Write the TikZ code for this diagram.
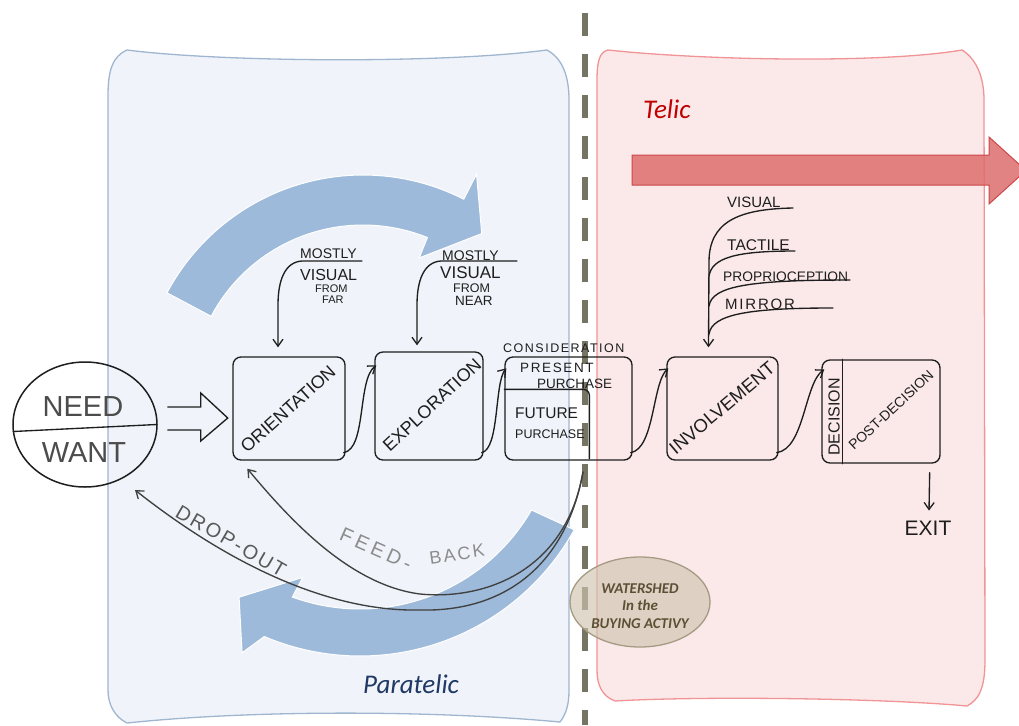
\documentclass[tikz,border=0pt]{standalone}
\usepackage{fontspec}
\usetikzlibrary{shapes.geometric,arrows.meta}
\newfontfamily\hand{Liberation Sans}
\newfontfamily\handwide{Liberation Sans}[LetterSpace=12]
\newfontfamily\handwider{Liberation Sans}[LetterSpace=20]
\newfontfamily\calib{Carlito}
\newcommand\setfs[1]{\fontsize{#1}{#1}\selectfont}

\definecolor{paneblue}{RGB}{240,244,250}
\definecolor{paneblueline}{RGB}{160,182,208}
\definecolor{panered}{RGB}{251,233,234}
\definecolor{paneredline}{RGB}{240,148,150}
\definecolor{arrowblue}{RGB}{157,186,218}
\definecolor{arrowred}{RGB}{222,110,110}
\definecolor{arrowredline}{RGB}{205,70,72}
\definecolor{divider}{RGB}{118,116,98}
\definecolor{telicred}{RGB}{192,0,0}
\definecolor{parablue}{RGB}{31,56,100}
\definecolor{shedfill}{RGB}{208,196,176}
\definecolor{shedline}{RGB}{165,155,130}
\definecolor{shedtext}{RGB}{92,80,52}
\definecolor{ink}{RGB}{30,30,30}

\begin{document}
\begin{tikzpicture}[x=1pt,y=-1pt,
  sk/.style={draw=ink, line width=1.35pt, line cap=round, line join=round},
  skarrow/.style={sk, -{Straight Barb[length=7pt,width=10pt,line width=1.3pt]}},
  stage/.style={sk, rounded corners=8pt, minimum width=#1, minimum height=103pt, inner sep=0pt},
  lab/.style={inner sep=0pt, text=ink},
  bluearrow/.style={fill=arrowblue, draw=white, line width=1pt},
  panelblue/.style={fill=paneblue, draw=paneblueline, line width=1.3pt},
  panelred/.style={fill=panered, draw=paneredline, line width=1.3pt}
]
\useasboundingbox (0,0) rectangle (1019,725);
\fill[white] (0,0) rectangle (1019,725);

% --- the two phase panels ---
\filldraw[panelblue]
  (127,50) .. controls (220,62) and (440,64) .. (547,50)
  .. controls (560,57) and (569,72) .. (569,100)
  -- (569,690) .. controls (569,705) and (566,714) .. (560,722)
  .. controls (430,710) and (250,710) .. (127,723)
  .. controls (115,717) and (108,705) .. (108,690)
  -- (108,95) .. controls (108,70) and (113,56) .. (127,50) -- cycle;
\filldraw[panelred]
  (608,50) .. controls (700,60) and (880,64) .. (962,50)
  .. controls (975,58) and (984,75) .. (984,100)
  -- (985,660) .. controls (985,690) and (978,700) .. (967,706)
  .. controls (880,698) and (700,696) .. (615,701)
  .. controls (602,696) and (597,685) .. (597,670)
  -- (597,80) .. controls (597,60) and (600,52) .. (608,50) -- cycle;

% --- watershed divider ---
\draw[draw=divider, line width=6pt, dash pattern=on 23pt off 18pt] (584.5,13) -- (584.5,725);

% --- big direction arrows ---
\filldraw[fill=arrowred, fill opacity=0.85, draw=arrowredline, line width=1pt]
  (632,155) -- (989,155) -- (989,137) -- (1026,170.5) -- (989,204) -- (989,185) -- (632,185) -- cycle;

\begin{scope}[shift={(363,397)}, yscale=-1]
  \filldraw[bluearrow]
    plot[domain=152:63, samples=50] ({222*cos(\x)},{222*sin(\x)})
    -- (63:250) -- (54:202) -- (68:150)
    -- plot[domain=68:152, samples=50] ({172*cos(\x)},{172*sin(\x)}) -- cycle;
\end{scope}
\begin{scope}[shift={(360,411)}, yscale=-1]
  \filldraw[bluearrow]
    plot[domain=-29:-113, samples=50] ({245*cos(\x)},{245*sin(\x)})
    -- (-116:269) -- (-123:222) -- (-109:176)
    -- plot[domain=-110:-30, samples=50] ({198*cos(\x)},{198*sin(\x)}) -- cycle;
\end{scope}

% --- need / want ---
\node[draw=ink, line width=1.5pt, ellipse, minimum width=144pt, minimum height=125pt, inner sep=0pt] (need) at (85,424.5) {};
\draw[sk] ([shift={(1,7)}]need.west) -- ([shift={(-1,0)}]need.east);
\node[lab, text=black!70, font=\hand\setfs{29}] (needtxt) at (83,407) {NEED};
\node[lab, text=black!70, font=\hand\setfs{29}] (wanttxt) at (84,453) {WANT};

% --- buying stages ---
\node[stage=112pt] (ori) at (289,408.5) {};
\node[stage=108pt, minimum height=108pt] (exp) at (429,406) {};
\node[stage=127pt] (con) at (568.5,408.5) {};
\node[stage=111pt] (inv) at (722.5,408.5) {};
\node[stage=118pt] (dec) at (881,411.5) {};

\draw[sk, rounded corners=6pt] ([shift={(0,33)}]con.north west) -- ([shift={(85,33)}]con.north west) -- ([shift={(85,-2)}]con.south west);
\draw[sk] ([shift={(21,0)}]dec.north west) -- ([shift={(21,0)}]dec.south west);

\node[lab, rotate=42, font=\hand\setfs{18}] (oritxt) at (288,409) {ORIENTATION};
\node[lab, rotate=43, font=\hand\setfs{18}] (exptxt) at (432,405) {EXPLORATION};
\node[lab, rotate=40, font=\hand\setfs{18.5}] (invtxt) at (722,408) {INVOLVEMENT};
\node[lab, rotate=43, font=\hand\setfs{14}] (posttxt) at (891,410) {POST-DECISION};
\node[lab, rotate=90, font=\hand\setfs{16}] (dectxt) at (834,417) {DECISION};

\node[lab, anchor=base west, font=\handwide\setfs{12.5}] (contxt) at (503,352) {CONSIDERATION};
\node[lab, anchor=base west, font=\handwide\setfs{13.5}] (prestxt) at (520,372) {PRESENT};
\node[lab, anchor=base west, font=\hand\setfs{13.5}] (prespur) at (537,388) {PURCHASE};
\node[lab, anchor=base west, font=\hand\setfs{15.5}] (futtxt) at (515,418) {FUTURE};
\node[lab, anchor=base west, font=\hand\setfs{12.5}] (futpur) at (515,438) {PURCHASE};

% --- stage transitions ---
\draw[skarrow] ([shift={(-2,-8)}]ori.south east) .. controls +(23,-4) and +(-19,14) .. ([shift={(2,14)}]exp.north west);
\draw[skarrow] ([shift={(-2,-8)}]exp.south east) .. controls +(18,-4) and +(-12,14) .. ([shift={(2,12)}]con.north west);
\draw[skarrow] ([shift={(-2,-8)}]con.south east) .. controls +(24,-4) and +(-16,14) .. ([shift={(2,12)}]inv.north west);
\draw[skarrow] ([shift={(-2,-8)}]inv.south east) .. controls +(28,-4) and +(-20,14) .. ([shift={(3,10)}]dec.north west);

% --- hollow entry arrow ---
\coordinate (hol) at ([shift={(10,-6.5)}]need.east);
\draw[sk, line join=miter] ([shift={(0,-11)}]hol) -- ++(33,0) -- ++(0,-14) -- ++(27,25) -- ++(-27,23) -- ++(0,-11) -- ++(-33,0);

% --- sensory inputs ---
\node[lab, anchor=base west, font=\hand\setfs{14}] (mostlyA) at (300,258) {MOSTLY};
\node[lab, anchor=base west, font=\hand\setfs{16}] (visA) at (300,280) {VISUAL};
\node[lab, anchor=base west, font=\hand\setfs{11}] (fromA) at (315,292) {FROM};
\node[lab, anchor=base west, font=\hand\setfs{11}] (farA) at (322,303) {FAR};
\node[lab, anchor=base west, font=\hand\setfs{14}] (mostlyB) at (442,260) {MOSTLY};
\node[lab, anchor=base west, font=\hand\setfs{17}] (visB) at (440,278) {VISUAL};
\node[lab, anchor=base west, font=\hand\setfs{12.5}] (fromB) at (453,292) {FROM};
\node[lab, anchor=base west, font=\hand\setfs{13.5}] (nearB) at (455,305) {NEAR};

\draw[skarrow] (362,261) -- (302,261) .. controls (285,262) and (278,280) .. (278,305) -- ([shift={(-11,-9)}]ori.north);
\draw[skarrow] (517,261) -- (441,261) .. controls (424,262) and (417,280) .. (417,305) -- ([shift={(-12,-6)}]exp.north);

\node[lab, anchor=base west, font=\hand\setfs{15}] (visC) at (727,207) {VISUAL};
\node[lab, anchor=base west, font=\hand\setfs{15.5}] (tacC) at (727,250) {TACTILE};
\node[lab, anchor=base west, font=\hand\setfs{13.8}] (proC) at (723,281) {PROPRIOCEPTION};
\node[lab, anchor=base west, font=\handwide\setfs{15}] (mirC) at (725,309) {MIRROR};

\draw[skarrow] (793,208) .. controls (738,209) and (709,222) .. (709,262) -- ([shift={(-14,-9)}]inv.north);
\draw[sk] (795,251) .. controls (735,251) and (712,258) .. (709,276);
\draw[sk] (850,280) .. controls (750,280) and (712,286) .. (709,306);
\draw[sk] (833,308) .. controls (750,308) and (712,314) .. (709,334);

% --- exit ---
\node[lab, font=\hand\setfs{21}] (exit) at (928,528) {EXIT};
\draw[skarrow] ([shift={(-11,9)}]dec.south east) -- ([shift={(1,-10)}]exit.north);

% --- feed-back and drop-out loops ---
\coordinate (fork) at (583,472);
\coordinate (dropend) at (135,490);
\draw[skarrow, draw=black!75] (fork) .. controls (565,570) and (500,612) .. (420,610) .. controls (330,612) and (230,565) .. (dropend);
\draw[skarrow, draw=black!75] (fork) .. controls (565,575) and (480,600) .. (420,594) .. controls (350,585) and (290,520) .. ([shift={(15,8)}]ori.south west);
\node[lab, rotate=-30, text=black!65, font=\handwide\setfs{20}] (droptxt) at (231,541) {DROP-OUT};
\node[lab, rotate=-24, text=black!45, font=\handwider\setfs{20}] (feedtxt) at (376,549) {FEED-};
\node[lab, rotate=8, text=black!45, font=\handwide\setfs{18}] (backtxt) at (457,554) {BACK};

% --- phase names ---
\node[inner sep=0pt, anchor=base west, font=\calib\itshape\setfs{27}, text=telicred] (telic) at (643,118) {Telic};
\node[inner sep=0pt, anchor=base west, font=\calib\itshape\setfs{27}, text=parablue] (paratelic) at (363,693) {Paratelic};

% --- watershed badge ---
\node[ellipse, draw=shedline, fill=shedfill, fill opacity=0.65, line width=1.3pt, minimum width=140pt, minimum height=90pt, inner sep=0pt] (shed) at (640,602) {};
\node[inner sep=0pt, align=center, text=shedtext, font=\calib\bfseries\itshape\fontsize{15}{17.5}\selectfont] (shedtxt) at (640,606) {WATERSHED\\In the\\BUYING ACTIVY};
\end{tikzpicture}
\end{document}
